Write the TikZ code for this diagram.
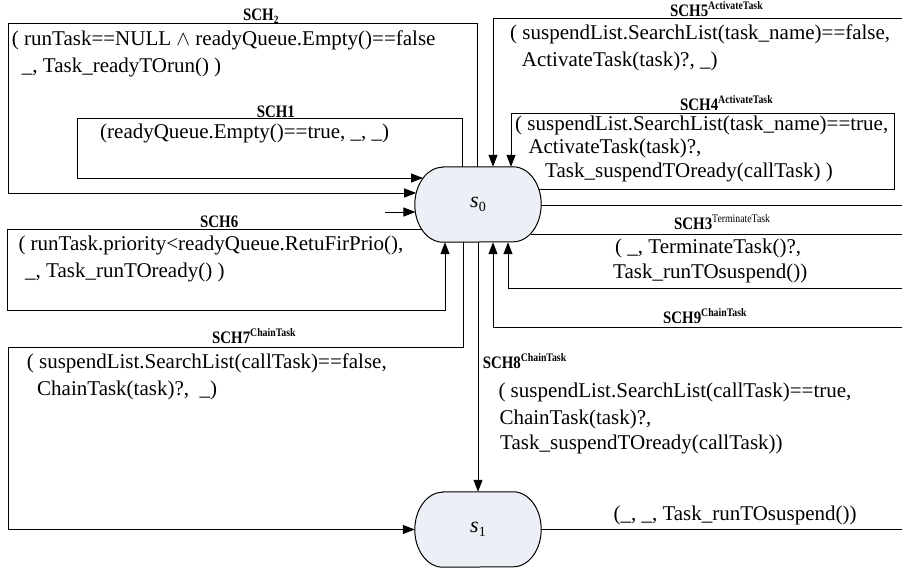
\documentclass[tikz,border=0pt]{standalone}
\usepackage{fontspec}
\setmainfont{Liberation Serif}
\newfontfamily\lblfont[FakeStretch=0.85]{Liberation Serif}
\usetikzlibrary{arrows.meta,calc,backgrounds}
\definecolor{statefill}{RGB}{236,239,245}
\newcommand{\schsup}[1]{\raisebox{7pt}{\fontsize{11.5}{11.5}\selectfont #1}}
\newcommand{\schsub}[1]{\raisebox{-3pt}{\fontsize{11}{11}\selectfont #1}}

\begin{document}
\begin{tikzpicture}[x=1pt,y=-1pt,
  conn/.style={draw=black, line width=1pt},
  arr/.style={conn, -{Triangle[length=12pt,width=9pt]}},
  txt/.style={font=\fontsize{21}{27}\selectfont, inner sep=0pt, anchor=base west},
  lbl/.style={font=\lblfont\bfseries\fontsize{17.5}{17.5}\selectfont, inner sep=0pt, anchor=base west},
  state/.style={shape=rectangle, minimum width=126pt, minimum height=75pt, inner sep=0pt,
    font=\fontsize{22}{22}\selectfont}]

\useasboundingbox (0,0) rectangle (902,571);

% states
\node[state] (s0) at (478,204.5) {{\itshape s}\raisebox{-4pt}{\fontsize{14}{14}\selectfont 0}};
\node[state] (s1) at (478,529.5) {{\itshape s}\raisebox{-4pt}{\fontsize{14}{14}\selectfont 1}};

% white page and stadium outlines with elliptic ends, behind the texts
\begin{scope}[on background layer]
  \fill[white] (0,0) rectangle (902,571);
  \foreach \s in {s0,s1}{
    \draw[fill=statefill, line width=1pt]
      ([xshift=28pt]\s.north west) -- ([xshift=-28pt]\s.north east)
      arc[start angle=90, end angle=-90, x radius=28pt, y radius=37.5pt]
      -- ([xshift=28pt]\s.south west)
      arc[start angle=270, end angle=90, x radius=28pt, y radius=37.5pt]
      -- cycle;
  }
\end{scope}

% free ends of the connectors
\coordinate (init) at (385,212);
\coordinate (e9out) at (902,205);
\coordinate (e9in)  at (902,327);
\coordinate (e3out) at (902,234);
\coordinate (e3in)  at (902,288);
\coordinate (e5in)  at (902,18);
\coordinate (e1out) at (902,529.5);

% initial arrow
\draw[arr] (init) -- ($(s0.west)+(0.6,7.5)$);
% SCH1
\draw[arr] ([xshift=-16pt]s0.north) |- (77,118) |- ($(s0.west)+(8.2,-26.5)$);
% SCH2
\draw[arr] ([xshift=-0.5pt]s0.north) |- (8,23) |- ($(s0.west)+(1.4,-11.5)$);
% SCH6
\draw[arr] ($(s0.west)+(6.8,24.5)$) -| (7,310) -| ([xshift=-33pt]s0.south);
% SCH7
\draw[arr] ([xshift=-15pt]s0.south) |- (8,347) |- (s1.west);
% SCH8
\draw[arr] (s0.south) -- (s1.north);
% SCH9
\draw[conn] ($(s0.east)+(0,0.5)$) -- (e9out);
\draw[arr] (e9in) -| ([xshift=15pt]s0.south);
% SCH3
\draw[conn] ($(s0.east)+(-10.7,29.5)$) -- (e3out);
\draw[arr] (e3in) -| ([xshift=30pt]s0.south);
% SCH4
\draw[arr] ($(s0.east)+(-2.5,-15.5)$) -| (894,113) -| ([xshift=33pt]s0.north);
% SCH5
\draw[arr] (e5in) -| ([xshift=15pt]s0.north);
% from s1
\draw[conn] (s1.east) -- (e1out);

% transition names
\node[lbl] (l2) at (243,20.5) {SCH\schsub{2}};
\node[lbl] (l1) at (256.7,117) {SCH1};
\node[lbl] (l5) at (670,16.5) {SCH5\schsup{ActivateTask}};
\node[lbl] (l4) at (680,110) {SCH4\schsup{ActivateTask}};
\node[lbl] (l6) at (200,227.5) {SCH6};
\node[lbl] (l7) at (212,343) {SCH7\schsup{ChainTask}};
\node[lbl] (l8) at (482.7,368) {SCH8\schsup{ChainTask}};
\node[lbl] (l3) at (674,229) {SCH3\schsup{\mdseries TerminateTask}};
\node[lbl] (l9) at (663,323) {SCH9\schsup{ChainTask}};

% transition guards and actions
\node[txt] (t2a) at (11.7,45) {( runTask==NULL $\wedge$ readyQueue.Empty()==false};
\node[txt] (t2b) at (21.7,72) {\_, Task\_readyTOrun() )};
\node[txt] (t1)  at (100,138) {(readyQueue.Empty()==true, \_, \_)};
\node[txt] (t5a) at (510,39) {( suspendList.SearchList(task\_name)==false,};
\node[txt] (t5b) at (521.7,66) {ActivateTask(task)?, \_)};
\node[txt] (t4a) at (515,130) {( suspendList.SearchList(task\_name)==true,};
\node[txt] (t4b) at (528.3,153) {ActivateTask(task)?,};
\node[txt] (t4c) at (545,177) {Task\_suspendTOready(callTask) )};
\node[txt] (t6a) at (18.3,250) {( runTask.priority<readyQueue.RetuFirPrio(),};
\node[txt] (t6b) at (25,277) {\_, Task\_runTOready() )};
\node[txt] (t7a) at (26.7,368) {( suspendList.SearchList(callTask)==false,};
\node[txt] (t7b) at (37,395) {ChainTask(task)?,\ \ \_)};
\node[txt] (t8a) at (498.3,397) {( suspendList.SearchList(callTask)==true,};
\node[txt] (t8b) at (499.3,424) {ChainTask(task)?,};
\node[txt] (t8c) at (500,449) {Task\_suspendTOready(callTask))};
\node[txt] (t3a) at (615,253) {( \_, TerminateTask()?,};
\node[txt] (t3b) at (613,278) {Task\_runTOsuspend())};
\node[txt] (t10) at (613.3,520.7) {(\_, \_, Task\_runTOsuspend())};

\end{tikzpicture}
\end{document}
